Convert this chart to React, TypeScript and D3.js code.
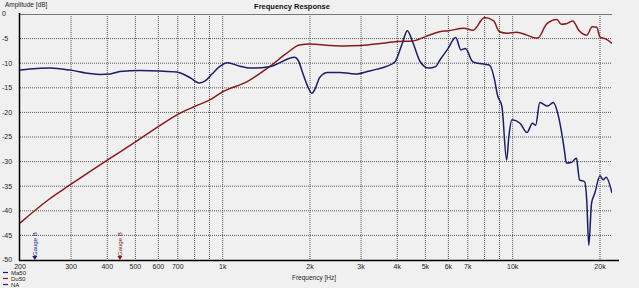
import React from "react";
import * as d3 from "d3";

const yTicks = [0, -5, -10, -15, -20, -25, -30, -35, -40, -45, -50];
const xGrid = [300, 400, 500, 600, 700, 800, 900, 1000, 2000, 3000, 4000, 5000, 6000, 7000, 8000, 9000, 10000, 20000];
const xLabels: [number, string][] = [
  [200, "200"], [300, "300"], [400, "400"], [500, "500"], [600, "600"], [700, "700"],
  [1000, "1k"], [2000, "2k"], [3000, "3k"], [4000, "4k"], [5000, "5k"], [6000, "6k"],
  [7000, "7k"], [10000, "10k"], [20000, "20k"],
];

const du50: [number, number][] = [
  [200, -42.5], [250, -37.8], [300, -34.6], [400, -29.7], [500, -26.0], [600, -22.9],
  [700, -20.4], [800, -18.8], [900, -17.5], [1000, -15.8], [1210, -13.8], [1450, -10.7],
  [1660, -8.0], [1840, -6.3], [2000, -6.1], [2340, -6.4], [2600, -6.5], [3000, -6.4],
  [3500, -6.0], [4000, -5.6], [4500, -5.5], [5000, -4.6],
  [5600, -3.6], [6000, -3.4], [6800, -2.9], [7300, -3.3], [8000, -0.7], [8600, -1.4],
  [9000, -3.6], [9600, -3.9], [10300, -3.7], [11200, -4.3], [12000, -4.9], [12200, -4.9],
  [13100, -2.0], [14200, -1.1], [14700, -2.1], [15300, -2.0], [16100, -1.4], [16900, -3.3],
  [18000, -4.3], [18800, -2.6], [19500, -2.7], [20000, -4.7], [21000, -5.1], [22000, -6.0],
];

const ma50: [number, number][] = [
  [200, -11.4], [216, -11.2], [254, -11.0], [297, -11.4], [348, -12.1], [378, -12.3],
  [409, -12.2], [442, -11.7], [519, -11.5], [607, -11.6], [694, -11.8], [770, -12.9],
  [830, -14.0], [870, -13.6], [918, -12.2], [980, -10.6], [1036, -9.9], [1146, -10.6],
  [1240, -11.0], [1450, -10.7], [1770, -8.8], [1820, -9.4], [1890, -12.1], [1960, -14.6], [2030, -16.1],
  [2090, -15.0], [2160, -12.9], [2300, -11.9], [2540, -11.9], [2750, -12.1], [2900, -12.2],
  [3150, -11.7], [3410, -11.2], [3690, -10.6], [3930, -9.7], [4160, -6.0], [4330, -3.4],
  [4540, -6.0], [4800, -9.7], [5130, -11.0], [5420, -10.7], [5620, -9.3], [5960, -7.2],
  [6360, -4.8], [6630, -7.3], [6870, -7.0], [7280, -9.7], [7570, -10.0], [8010, -10.2],
  [8320, -10.4], [8660, -13.4], [8860, -16.5], [9180, -18.8], [9530, -29.7], [9700, -24.9],
  [9940, -21.5], [10600, -22.2], [11200, -24.1], [11700, -22.2], [12000, -22.6], [12400, -18.0],
  [13200, -18.7], [13800, -18.0], [14300, -20.2], [14700, -23.6], [15100, -28.0], [15300, -30.3],
  [15900, -30.2], [16600, -29.3], [16800, -31.7], [17000, -33.7], [17700, -34.1], [18000, -37.8],
  [18300, -47.0], [18700, -38.5], [19200, -36.4], [20000, -32.9], [20500, -33.7], [21000, -33.2],
  [22000, -36.4],
];

const legendNames = ["Ma50", "Du50", "NA"];
const legendColors = ["#1c1c6a", "#8a1a1a", "#2a2a5a"];
const markers: [number, string, string][] = [
  [225, "Gauge B", "#1c1c8a"],
  [442, "Gauge B", "#8a1a1a"],
];

export default function App() {
  const W = 639, H = 288;
  const x = d3.scaleLog().domain([200, 22000]).range([20, 612]);
  const y = d3.scaleLinear().domain([0, -50]).range([14, 260]);
  const line = d3.line<[number, number]>().x(d => x(d[0])).y(d => y(d[1])).curve(d3.curveMonotoneX);
  const font = "Arial, 'Liberation Sans', sans-serif";
  return (
    <svg width={W} height={H} style={{ position: "absolute", left: 0, top: 0, background: "#f0f0f0" }} fontFamily={font}>
      <rect x={0} y={0} width={W} height={H} fill="#f0f0f0" />
      <defs>
        <clipPath id="plot"><rect x={20} y={12} width={592} height={250} /></clipPath>
      </defs>
      {yTicks.slice(1, -1).map(t => (
        <line key={t} x1={20} x2={612} y1={y(t)} y2={y(t)} stroke="#555" strokeWidth={1} strokeDasharray="1,1" />
      ))}
      {xGrid.map(f => (
        <line key={f} x1={x(f)} x2={x(f)} y1={14} y2={260} stroke="#555" strokeWidth={1} strokeDasharray="1,1" />
      ))}
      <line x1={20} x2={612} y1={14.5} y2={14.5} stroke="#777" strokeWidth={1} />
      <g clipPath="url(#plot)">
        <path d={line(du50) || ""} fill="none" stroke="#8a1a1a" strokeWidth={1.5} />
        <path d={line(ma50) || ""} fill="none" stroke="#1c1c6a" strokeWidth={1.5} />
      </g>
      <line x1={19.5} x2={19.5} y1={13} y2={261} stroke="#000" strokeWidth={1.5} />
      <line x1={19} x2={619} y1={260.5} y2={260.5} stroke="#000" strokeWidth={1.5} />
      {yTicks.map(t => (
        <text key={t} x={2} y={y(t)} dy="0.35em" fontSize={7} fill="#222">{t}</text>
      ))}
      {xLabels.map(([f, s]) => (
        <text key={s} x={x(f)} y={269} textAnchor="middle" fontSize={7} fill="#222">{s}</text>
      ))}
      {markers.map(([f, s, c], i) => (
        <g key={i}>
          <path d={`M${x(f) - 2.5},${256} L${x(f) + 2.5},${256} L${x(f)},${260} Z`} fill={c} />
          <text transform={`translate(${x(f) + 2},${256}) rotate(-90)`} fontSize={6} fill={c}>{s}</text>
        </g>
      ))}
      <text x={292} y={9} textAnchor="middle" fontSize={7.5} fontWeight="bold" fill="#111">Frequency Response</text>
      <text x={5} y={7} fontSize={6.5} fill="#222">Amplitude [dB]</text>
      <text x={314} y={280} textAnchor="middle" fontSize={6.5} fill="#222">Frequency [Hz]</text>
      {legendNames.map((n, i) => (
        <g key={n}>
          <line x1={3} x2={8} y1={272.5 + i * 6} y2={272.5 + i * 6} stroke={legendColors[i]} strokeWidth={1.2} />
          <text x={11} y={272.5 + i * 6} dy="0.35em" fontSize={6} fill="#222">{n}</text>
        </g>
      ))}
    </svg>
  );
}
